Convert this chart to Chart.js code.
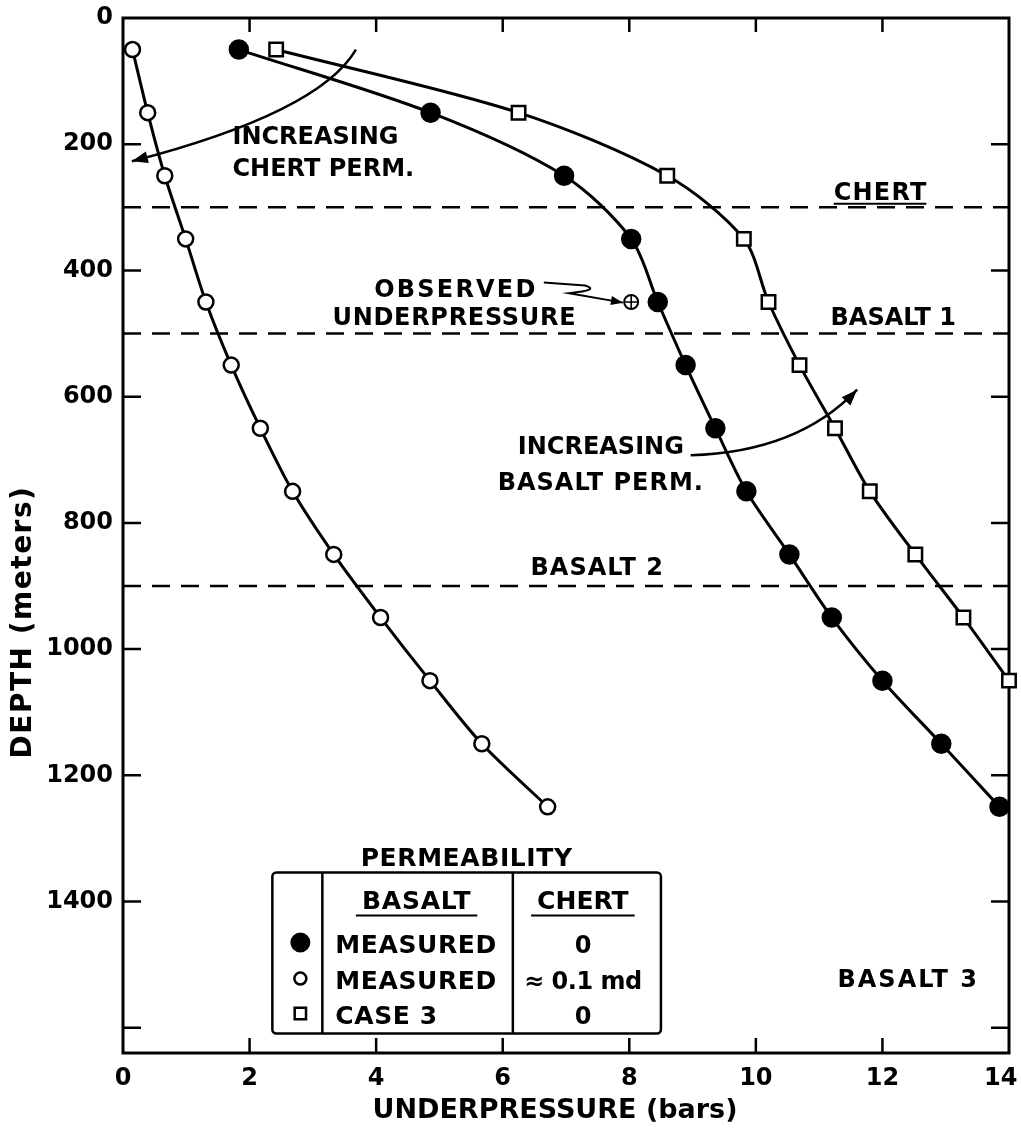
<!DOCTYPE html>
<html>
<head>
<meta charset="utf-8">
<script src="https://cdn.jsdelivr.net/npm/chart.js@4/dist/chart.umd.min.js"></script>
<style>
  html, body { margin: 0; padding: 0; background: #fff; }
  canvas { display: block; }
</style>
</head>
<body>
<canvas id="chart" width="1021" height="1134"></canvas>
<script>
// Depth of each computed point (m)
const depthsM = [50, 150, 250, 350, 450, 550, 650, 750, 850, 950, 1050, 1150, 1250];

// Underpressure (bars): basalt measured, chert permeability 0
const measuredChertZero = [1.83, 4.86, 6.97, 8.03, 8.45, 8.89, 9.36, 9.85, 10.53, 11.2, 12.0, 12.93, 13.85];
// Underpressure (bars): basalt measured, chert permeability ~0.1 md
const measuredChertTenth = [0.15, 0.39, 0.66, 0.99, 1.31, 1.71, 2.17, 2.68, 3.33, 4.07, 4.85, 5.67, 6.71];
// Underpressure (bars): case 3, chert permeability 0
const case3ChertZero = [2.42, 6.25, 8.6, 9.81, 10.2, 10.69, 11.25, 11.8, 12.52, 13.28, 14.0];

// Field observation
const observedPressure = [8.03];
const observedDepth = [450];

// Axis ticks
const pressureTicks = [0, 2, 4, 6, 8, 10, 12, 14];
const pressureTickLabels = ['0', '2', '4', '6', '8', '10', '12', '14'];
const depthTicks = [0, 200, 400, 600, 800, 1000, 1200, 1400, 1600];
const depthTickLabels = ['0', '200', '400', '600', '800', '1000', '1200', '1400', ''];

// Stratigraphy: boundaries (m) and unit names
const layerTops = [300, 500, 900];
const layerNames = ['CHERT', 'BASALT 1', 'BASALT 2', 'BASALT 3'];

// Permeability key
const keyTitle = 'PERMEABILITY';
const keyHeaders = ['BASALT', 'CHERT'];
const keyBasalt = ['MEASURED', 'MEASURED', 'CASE 3'];
const keyChert = ['0', '\u2248 0.1 md', '0'];

const INK = '#000';
const FONT = '"DejaVu Sans", "Noto Sans", sans-serif';

const toPoints = (values) => values.map((x, i) => ({ x, y: depthsM[i] }));

// Annotation layout, in data units (bars, metres)
const notes = [
  { text: 'INCREASING', x: 1.73, y: 200, align: 'left', spacing: 0 },
  { text: 'CHERT PERM.', x: 1.73, y: 251, align: 'left', spacing: 0 },
  { text: 'OBSERVED', x: 3.97, y: 442, align: 'left', spacing: 2.2 },
  { text: 'UNDERPRESSURE', x: 3.31, y: 486, align: 'left', spacing: 0.7 },
  { text: 'INCREASING', x: 7.55, y: 691, align: 'center', spacing: 0 },
  { text: 'BASALT PERM.', x: 7.55, y: 748, align: 'center', spacing: 1 }
];
const layerLabels = [
  { x: 11.23, y: 288, spacing: 1.2, underline: true },
  { x: 11.18, y: 486, spacing: 0 },
  { x: 6.44, y: 883, spacing: 1 },
  { x: 11.29, y: 1536, spacing: 2 }
];
const chertArrow = { from: [3.68, 50], ctrl: [3.1, 150], to: [0.14, 227] };
const basaltArrow = { from: [8.97, 693], ctrl: [10.66, 688], to: [11.6, 589] };
const leader = { a: [6.65, 419], b: [7.3, 424], ctrl: [7.55, 431], c: [7.05, 436], tip: [7.9, 451] };
const keyBox = { left: 2.36, right: 8.5, top: 1354, bottom: 1609, div1: 3.15, div2: 6.16 };

function drawText(ctx, s, x, y, opts = {}) {
  ctx.save();
  ctx.font = `bold ${opts.size || 24}px ${FONT}`;
  ctx.letterSpacing = (opts.spacing != null ? opts.spacing : 0) + 'px';
  ctx.textAlign = opts.align || 'left';
  ctx.textBaseline = opts.baseline || 'alphabetic';
  ctx.fillStyle = INK;
  ctx.fillText(s, x, y);
  const w = ctx.measureText(s).width;
  ctx.restore();
  return w;
}

function arrowHead(ctx, x, y, ang, len = 15, half = 6) {
  const c = Math.cos(ang), s = Math.sin(ang);
  ctx.beginPath();
  ctx.moveTo(x, y);
  ctx.lineTo(x - len * c + half * s, y - len * s - half * c);
  ctx.lineTo(x - len * c - half * s, y - len * s + half * c);
  ctx.closePath();
  ctx.fill();
}

const figureDecor = {
  id: 'figureDecor',
  beforeDatasetsDraw(chart) {
    const { ctx, chartArea: a, scales: { x, y } } = chart;
    ctx.save();
    ctx.strokeStyle = INK;
    ctx.lineCap = 'butt';

    // unit boundaries
    ctx.lineWidth = 2.5;
    ctx.setLineDash([18, 11]);
    layerTops.forEach((d) => {
      const py = y.getPixelForValue(d);
      ctx.beginPath();
      ctx.moveTo(a.left, py);
      ctx.lineTo(a.right, py);
      ctx.stroke();
    });
    ctx.setLineDash([]);

    // frame
    ctx.lineWidth = 3;
    ctx.strokeRect(a.left, a.top, a.right - a.left, a.bottom - a.top);

    // inward tick marks on all four sides
    ctx.lineWidth = 2.5;
    depthTicks.forEach((d) => {
      if (d <= y.min || d >= y.max) return;
      const py = y.getPixelForValue(d);
      ctx.beginPath();
      ctx.moveTo(a.left, py); ctx.lineTo(a.left + 18, py);
      ctx.moveTo(a.right, py); ctx.lineTo(a.right - 18, py);
      ctx.stroke();
    });
    pressureTicks.forEach((v) => {
      if (v <= x.min || v >= x.max) return;
      const px = x.getPixelForValue(v);
      ctx.beginPath();
      ctx.moveTo(px, a.bottom); ctx.lineTo(px, a.bottom - 15);
      ctx.moveTo(px, a.top); ctx.lineTo(px, a.top + 14);
      ctx.stroke();
    });
    ctx.restore();
  },
  afterDatasetsDraw(chart) {
    const { ctx, chartArea: a, scales: { x, y } } = chart;
    const P = (p) => [x.getPixelForValue(p[0]), y.getPixelForValue(p[1])];
    ctx.save();
    ctx.strokeStyle = INK;
    ctx.fillStyle = INK;

    // free text
    notes.forEach((n) => {
      drawText(ctx, n.text, x.getPixelForValue(n.x), y.getPixelForValue(n.y), { align: n.align, spacing: n.spacing });
    });
    layerLabels.forEach((l, i) => {
      const px = x.getPixelForValue(l.x), py = y.getPixelForValue(l.y);
      const w = drawText(ctx, layerNames[i], px, py, { spacing: l.spacing });
      if (l.underline) {
        ctx.lineWidth = 2;
        ctx.beginPath();
        ctx.moveTo(px, py + 4); ctx.lineTo(px + w - l.spacing, py + 4);
        ctx.stroke();
      }
    });

    // curved arrows
    ctx.lineWidth = 2.5;
    [chertArrow, basaltArrow].forEach((ar) => {
      const f = P(ar.from), c = P(ar.ctrl), t = P(ar.to);
      ctx.beginPath();
      ctx.moveTo(f[0], f[1]);
      ctx.quadraticCurveTo(c[0], c[1], t[0], t[1]);
      ctx.stroke();
      arrowHead(ctx, t[0], t[1], Math.atan2(t[1] - c[1], t[0] - c[0]), 16, 6);
    });

    // leader to the observed value
    {
      const pa = P(leader.a), pb = P(leader.b), pc = P(leader.ctrl), pd = P(leader.c), pt = P(leader.tip);
      ctx.lineWidth = 2;
      ctx.beginPath();
      ctx.moveTo(pa[0], pa[1]);
      ctx.lineTo(pb[0], pb[1]);
      ctx.quadraticCurveTo(pc[0], pc[1], pd[0], pd[1]);
      ctx.lineTo(pt[0], pt[1]);
      ctx.stroke();
      arrowHead(ctx, pt[0], pt[1], Math.atan2(pt[1] - pd[1], pt[0] - pd[0]), 12, 4.5);
    }

    // permeability key
    {
      const L = x.getPixelForValue(keyBox.left), R = x.getPixelForValue(keyBox.right);
      const T = y.getPixelForValue(keyBox.top), B = y.getPixelForValue(keyBox.bottom);
      const d1 = x.getPixelForValue(keyBox.div1), d2 = x.getPixelForValue(keyBox.div2);
      ctx.lineWidth = 2.5;
      ctx.beginPath();
      ctx.roundRect(L, T, R - L, B - T, 4);
      ctx.moveTo(d1, T); ctx.lineTo(d1, B);
      ctx.moveTo(d2, T); ctx.lineTo(d2, B);
      ctx.stroke();

      drawText(ctx, keyTitle, (L + R) / 2, T - 7, { align: 'center', size: 25, spacing: 0.6 });
      const c1 = (d1 + d2) / 2, c2 = (d2 + R) / 2;
      [[keyHeaders[0], c1 - 1, 0.8], [keyHeaders[1], c2 - 4, 0]].forEach(([s, cx, sp]) => {
        const w = drawText(ctx, s, cx, T + 36, { align: 'center', size: 25, spacing: sp });
        ctx.lineWidth = 2.2;
        ctx.beginPath();
        ctx.moveTo(cx - w / 2 - 6, T + 43); ctx.lineTo(cx + w / 2 + 6, T + 43);
        ctx.stroke();
      });

      const symbols = [
        { style: 'circle', r: 9, fill: INK, bw: 2 },
        { style: 'circle', r: 6, fill: '#fff', bw: 2.5 },
        { style: 'rect', r: 8, fill: '#fff', bw: 2.5 }
      ];
      const rowBase = [T + 80, T + 116, T + 151];
      const sx = (L + d1) / 2 + 3;
      keyBasalt.forEach((s, i) => {
        const by = rowBase[i];
        ctx.save();
        ctx.fillStyle = symbols[i].fill;
        ctx.strokeStyle = INK;
        ctx.lineWidth = symbols[i].bw;
        Chart.helpers.drawPoint(ctx, { pointStyle: symbols[i].style, radius: symbols[i].r, rotation: 0, borderWidth: symbols[i].bw }, sx, by - 10);
        ctx.restore();
        drawText(ctx, s, d1 + 13, by, { size: 25, spacing: 0.6 });
        drawText(ctx, keyChert[i], c2 - 4, by, { align: 'center', size: 24, spacing: -0.5 });
      });
    }

    // axis titles
    drawText(ctx, 'UNDERPRESSURE (bars)', 555, a.bottom + 65, { align: 'center', size: 27, spacing: 0 });
    ctx.save();
    ctx.translate(24, 622);
    ctx.rotate(-Math.PI / 2);
    drawText(ctx, 'DEPTH (meters)', 0, 0, { align: 'center', baseline: 'middle', size: 28, spacing: 1.5 });
    ctx.restore();

    ctx.restore();
  }
};

const lineStyle = {
  showLine: true,
  borderColor: INK,
  borderWidth: 3,
  tension: 0.3,
  pointBorderColor: INK,
  pointBorderWidth: 2.5,
  clip: false,
  order: 2
};

const tickFont = { family: FONT, size: 24, weight: 'bold' };

new Chart(document.getElementById('chart'), {
  type: 'scatter',
  data: {
    datasets: [
      Object.assign({
        label: 'Basalt measured, chert \u2248 0.1 md',
        data: toPoints(measuredChertTenth),
        pointStyle: 'circle',
        pointRadius: 7.5,
        pointBackgroundColor: '#fff'
      }, lineStyle),
      Object.assign({
        label: 'Basalt measured, chert 0',
        data: toPoints(measuredChertZero),
        pointStyle: 'circle',
        pointRadius: 9,
        pointBackgroundColor: INK
      }, lineStyle),
      Object.assign({
        label: 'Case 3, chert 0',
        data: toPoints(case3ChertZero),
        pointStyle: 'rect',
        pointRadius: 9.5,
        pointBackgroundColor: '#fff'
      }, lineStyle),
      {
        label: 'Observed underpressure',
        data: observedPressure.map((v, i) => ({ x: v, y: observedDepth[i] })),
        pointStyle: 'circle',
        pointRadius: 7,
        pointBackgroundColor: '#fff',
        pointBorderColor: INK,
        pointBorderWidth: 2,
        clip: false,
        order: 1
      },
      {
        label: 'Observed underpressure (cross)',
        data: observedPressure.map((v, i) => ({ x: v, y: observedDepth[i] })),
        pointStyle: 'cross',
        pointRadius: 6,
        pointBorderColor: INK,
        pointBorderWidth: 1.6,
        clip: false,
        order: 0
      }
    ]
  },
  options: {
    responsive: false,
    animation: false,
    devicePixelRatio: 1,
    layout: { padding: { top: 18, right: 9, left: 0, bottom: 0 } },
    plugins: { legend: { display: false }, tooltip: { enabled: false } },
    scales: {
      x: {
        type: 'linear',
        min: 0,
        max: 14,
        afterBuildTicks: (s) => { s.ticks = pressureTicks.map((v) => ({ value: v })); },
        afterFit: (s) => { s.height = 81; s.paddingLeft = 0; s.paddingRight = 0; },
        ticks: {
          autoSkip: false,
          maxRotation: 0,
          padding: 3,
          color: INK,
          font: tickFont,
          callback: (v, i, arr) => (i === arr.length - 1 ? pressureTickLabels[i] + '\u2007' : pressureTickLabels[i])
        },
        grid: { display: false },
        border: { display: false }
      },
      y: {
        type: 'linear',
        reverse: true,
        min: 0,
        max: 1640,
        afterBuildTicks: (s) => { s.ticks = depthTicks.map((v) => ({ value: v })); },
        afterFit: (s) => { s.width = 123; s.paddingTop = 0; s.paddingBottom = 0; },
        ticks: {
          autoSkip: false,
          padding: 2,
          color: INK,
          font: tickFont,
          callback: (v, i) => depthTickLabels[i]
        },
        grid: { display: false },
        border: { display: false }
      }
    }
  },
  plugins: [figureDecor]
});
</script>
</body>
</html>
